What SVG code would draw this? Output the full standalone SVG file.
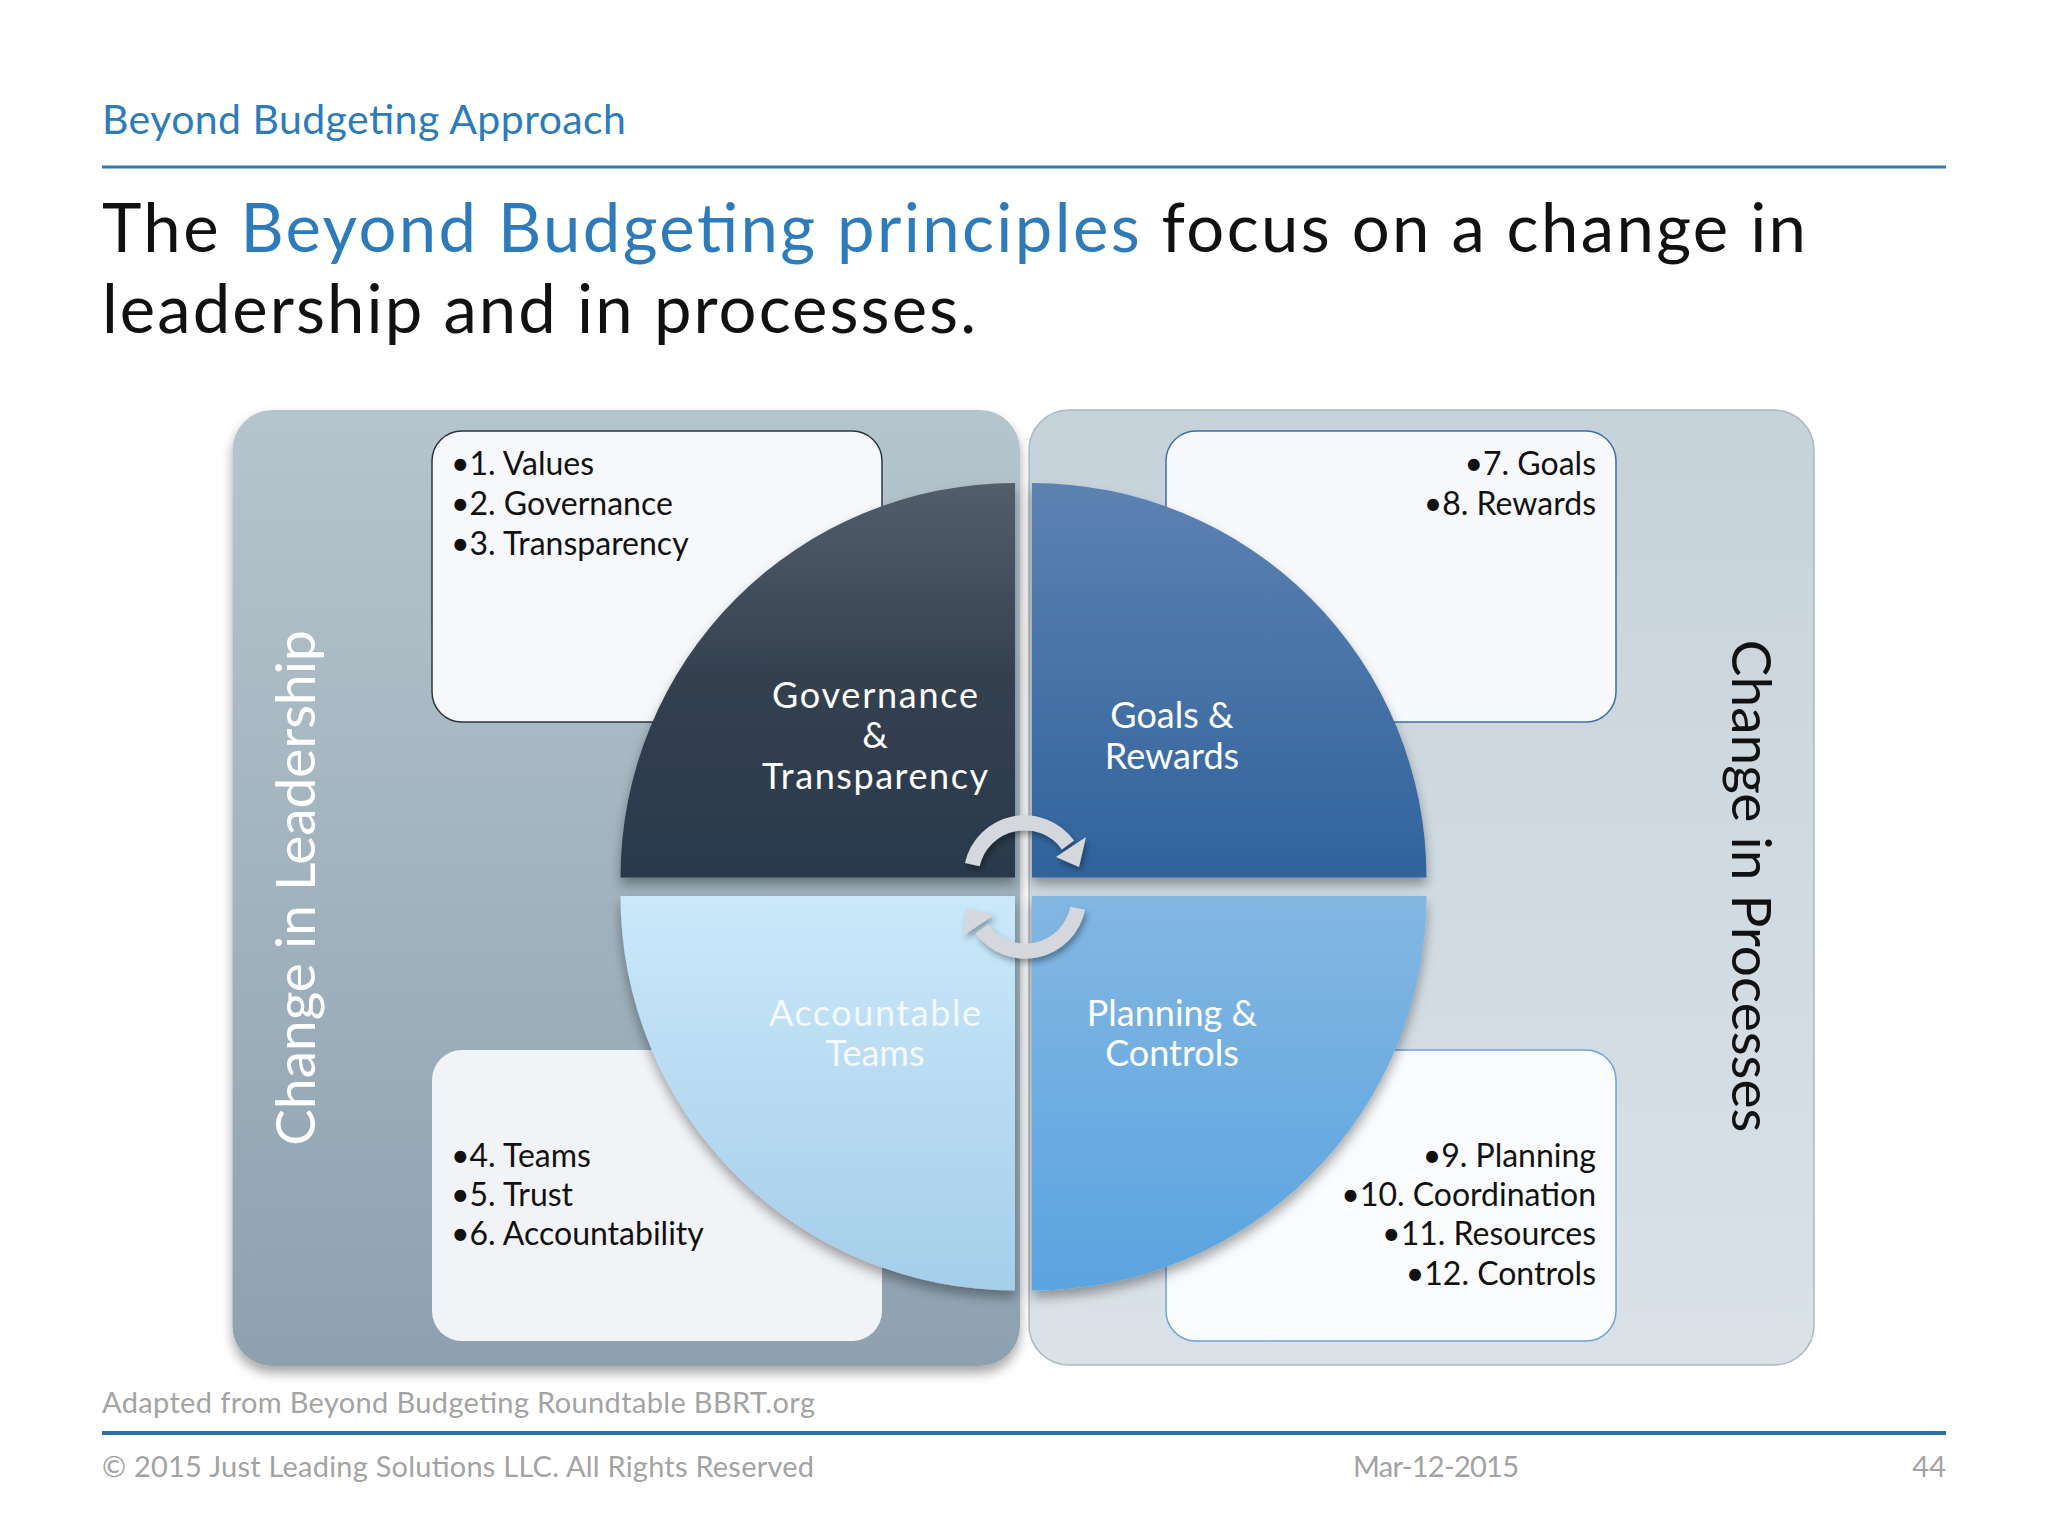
<svg xmlns="http://www.w3.org/2000/svg" width="2048" height="1536" viewBox="0 0 2048 1536">
<style>
  text { font-family: "Lato", "Open Sans", "Liberation Sans", sans-serif; }
  .hdr { font-size: 41px; fill: #2D7BBA; }
  .title { font-size: 67px; fill: #111111; }
  .blue { fill: #2D7BBA; }
  .list { font-size: 32px; fill: #111111; }
  .qlabel { font-size: 36px; fill: #FFFFFF; text-anchor: middle; }
  .foot { font-size: 29px; fill: #A3A3A3; }
  .arrow { fill: none; stroke: #D4D7DB; stroke-width: 15; }
  .ahead { fill: #D4D7DB; }
</style>
<defs>
  <linearGradient id="gLeft" x1="0" y1="0" x2="0" y2="1">
    <stop offset="0" stop-color="#B5C5CD"/>
    <stop offset="1" stop-color="#8DA1AF"/>
  </linearGradient>
  <linearGradient id="gRight" x1="0" y1="0" x2="0" y2="1">
    <stop offset="0" stop-color="#C6D2DA"/>
    <stop offset="1" stop-color="#DAE2E8"/>
  </linearGradient>
  <linearGradient id="gTL" x1="0" y1="0" x2="0" y2="1">
    <stop offset="0" stop-color="#535E6B"/>
    <stop offset="0.5" stop-color="#34404F"/>
    <stop offset="1" stop-color="#2A394C"/>
  </linearGradient>
  <linearGradient id="gTR" x1="0" y1="0" x2="0" y2="1">
    <stop offset="0" stop-color="#5D82B2"/>
    <stop offset="1" stop-color="#30639C"/>
  </linearGradient>
  <linearGradient id="gBL" x1="0" y1="0" x2="0" y2="1">
    <stop offset="0" stop-color="#CAE8FA"/>
    <stop offset="1" stop-color="#A5CEEA"/>
  </linearGradient>
  <linearGradient id="gBR" x1="0" y1="0" x2="0" y2="1">
    <stop offset="0" stop-color="#83B7E2"/>
    <stop offset="1" stop-color="#5AA4E0"/>
  </linearGradient>
  <filter id="shadow" x="-10%" y="-10%" width="120%" height="125%">
    <feDropShadow dx="0" dy="7" stdDeviation="6" flood-color="#000000" flood-opacity="0.35"/>
  </filter>
  <filter id="softshadow" x="-20%" y="-20%" width="140%" height="140%">
    <feDropShadow dx="2" dy="4" stdDeviation="3" flood-color="#000000" flood-opacity="0.35"/>
  </filter>
</defs>

<rect x="0" y="0" width="2048" height="1536" fill="#FFFFFF"/>

<g id="header">
  <text class="hdr" x="102" y="134" textLength="524" lengthAdjust="spacing">Beyond Budgeting Approach</text>
  <line x1="102" y1="167" x2="1946" y2="167" stroke="#2F78B4" stroke-width="3"/>
  <text class="title" x="102" y="252" textLength="1704" lengthAdjust="spacing">The <tspan class="blue">Beyond Budgeting principles</tspan> focus on a change in</text>
  <text class="title" x="102" y="333" textLength="874" lengthAdjust="spacing">leadership and in processes.</text>
</g>

<g id="panel-leadership">
  <rect x="232.5" y="410" width="787.5" height="956" rx="40" fill="url(#gLeft)" filter="url(#shadow)"/>
  <text transform="translate(315,888) rotate(-90)" x="0" y="0" text-anchor="middle" font-size="55" fill="#FFFFFF">Change in Leadership</text>
</g>

<g id="panel-processes">
  <rect x="1029" y="410" width="785" height="955" rx="40" fill="url(#gRight)" stroke="#A9B8C3" stroke-width="1.5"/>
  <text transform="translate(1732,886) rotate(90)" x="0" y="0" text-anchor="middle" font-size="55" fill="#111111">Change in Processes</text>
</g>

<g id="box-leadership-top">
  <rect x="432" y="431" width="450" height="291" rx="30" fill="#F6F8FB" stroke="#2B3440" stroke-width="1.5"/>
</g>
<g id="box-leadership-bottom">
  <rect x="432" y="1050" width="450" height="291" rx="30" fill="#F2F3F7"/>
</g>
<g id="box-processes-top">
  <rect x="1166" y="431" width="450" height="291" rx="30" fill="#F8F9FC" stroke="#3D6FA5" stroke-width="1.5"/>
</g>
<g id="box-processes-bottom">
  <rect x="1166" y="1050" width="450" height="291" rx="30" fill="#FAFBFD" stroke="#6EA3D8" stroke-width="1.5"/>
</g>

<g id="q-governance">
  <path d="M1015,877.5 L620.5,877.5 A394.5,394.5 0 0 1 1015,483 Z" fill="url(#gTL)" filter="url(#shadow)"/>
  <text class="qlabel" x="875" y="708" textLength="206" lengthAdjust="spacing">Governance</text>
  <text class="qlabel" x="875" y="748">&amp;</text>
  <text class="qlabel" x="875" y="789" textLength="226" lengthAdjust="spacing">Transparency</text>
</g>
<g id="q-goals">
  <path d="M1032,877.5 L1032,483 A394.5,394.5 0 0 1 1426.5,877.5 Z" fill="url(#gTR)" filter="url(#shadow)"/>
  <text class="qlabel" x="1172" y="728">Goals &amp;</text>
  <text class="qlabel" x="1172" y="769">Rewards</text>
</g>
<g id="q-teams">
  <path d="M1015,896 L620.5,896 A394.5,394.5 0 0 0 1015,1290.5 Z" fill="url(#gBL)" filter="url(#shadow)"/>
  <text class="qlabel" x="875" y="1026" textLength="212" lengthAdjust="spacing" style="fill:#F4FAFE">Accountable</text>
  <text class="qlabel" x="875" y="1066" style="fill:#F4FAFE">Teams</text>
</g>
<g id="q-planning">
  <path d="M1032,896 L1426.5,896 A394.5,394.5 0 0 1 1032,1290.5 Z" fill="url(#gBR)" filter="url(#shadow)"/>
  <text class="qlabel" x="1172" y="1026">Planning &amp;</text>
  <text class="qlabel" x="1172" y="1066">Controls</text>
</g>

<g id="list-leadership-top">
  <text class="list" x="451" y="475">•1. Values</text>
  <text class="list" x="451" y="515">•2. Governance</text>
  <text class="list" x="451" y="555">•3. Transparency</text>
</g>
<g id="list-processes-top">
  <text class="list" x="1596" y="475" text-anchor="end">•7. Goals</text>
  <text class="list" x="1596" y="515" text-anchor="end">•8. Rewards</text>
</g>
<g id="list-leadership-bottom">
  <text class="list" x="451" y="1167">•4. Teams</text>
  <text class="list" x="451" y="1206">•5. Trust</text>
  <text class="list" x="451" y="1245">•6. Accountability</text>
</g>
<g id="list-processes-bottom">
  <text class="list" x="1596" y="1167" text-anchor="end">•9. Planning</text>
  <text class="list" x="1596" y="1206" text-anchor="end">•10. Coordination</text>
  <text class="list" x="1596" y="1245" text-anchor="end">•11. Resources</text>
  <text class="list" x="1596" y="1285" text-anchor="end">•12. Controls</text>
</g>

<g id="connectors" filter="url(#softshadow)">
  <path class="arrow" d="M972.3,864.7 A53.5,53.5 0 0 1 1068,845"/>
  <polygon class="ahead" points="1086,837 1056,857 1079,867"/>
  <path class="arrow" d="M1077.7,908.3 A53.5,53.5 0 0 1 982,929"/>
  <polygon class="ahead" points="964,935 994,915 967,908"/>
</g>

<g id="footer">
  <text class="foot" x="102" y="1413" font-size="30" textLength="713" lengthAdjust="spacing">Adapted from Beyond Budgeting Roundtable BBRT.org</text>
  <line x1="102" y1="1433" x2="1946" y2="1433" stroke="#2F6FA8" stroke-width="4"/>
  <text class="foot" x="102" y="1477" textLength="712" lengthAdjust="spacing">© 2015 Just Leading Solutions LLC. All Rights Reserved</text>
  <text class="foot" x="1353" y="1477" textLength="166" lengthAdjust="spacing">Mar-12-2015</text>
  <text class="foot" x="1946" y="1477" text-anchor="end">44</text>
</g>
</svg>
